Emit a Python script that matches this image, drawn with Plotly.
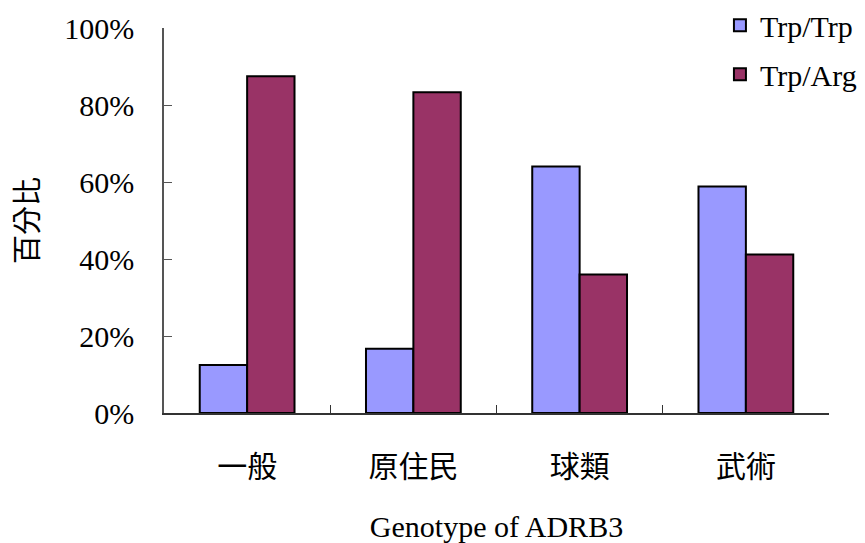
import plotly.graph_objects as go

categories = ["一般", "原住民", "球類", "武術"]
trp_trp = [12.5, 16.7, 64.0, 58.8]
trp_arg = [87.5, 83.3, 36.0, 41.2]
y_ticks = [0, 20, 40, 60, 80, 100]
y_tick_labels = ["0%", "20%", "40%", "60%", "80%", "100%"]

FONT = "'Liberation Serif', 'Noto Sans CJK TC', serif"

fig = go.Figure()
fig.add_trace(go.Bar(name="Trp/Trp", x=categories, y=trp_trp, legendgroup="a",
                     marker=dict(color="#9999FF", line=dict(color="black", width=2))))
fig.add_trace(go.Bar(name="Trp/Arg", x=categories, y=trp_arg, legendgroup="b",
                     marker=dict(color="#993366", line=dict(color="black", width=2))))

fig.update_layout(
    width=857, height=535,
    margin=dict(l=156, r=36, t=20, b=130, autoexpand=False),
    paper_bgcolor="white", plot_bgcolor="white",
    barmode="group", bargap=0.43, bargroupgap=0,
    font=dict(family=FONT, size=30, color="black"),
    showlegend=True,
    legend=dict(x=0.836, y=1.075, xanchor="left", yanchor="top",
                font=dict(family=FONT, size=30), bgcolor="rgba(0,0,0,0)",
                traceorder="grouped", tracegroupgap=7, itemwidth=30),
    xaxis=dict(
        showline=True, linecolor="#333", linewidth=1.5,
        ticks="inside", ticklen=8, tickcolor="#333", tickson="boundaries",
        ticklabelstandoff=26,
        tickfont=dict(family=FONT, size=30),
        title=dict(text="Genotype of ADRB3", font=dict(family=FONT, size=30), standoff=35),
        automargin=False,
    ),
    yaxis=dict(
        range=[0, 100], tickvals=y_ticks, ticktext=y_tick_labels,
        showline=True, linecolor="#555", linewidth=1.5,
        ticks="inside", ticklen=8, tickcolor="#555",
        showgrid=False, zeroline=False,
        ticklabelstandoff=22,
        tickfont=dict(family=FONT, size=30),
        title=dict(text="百分比", font=dict(family=FONT, size=29), standoff=17),
        automargin=False,
    ),
)

fig.write_html("out.html")
